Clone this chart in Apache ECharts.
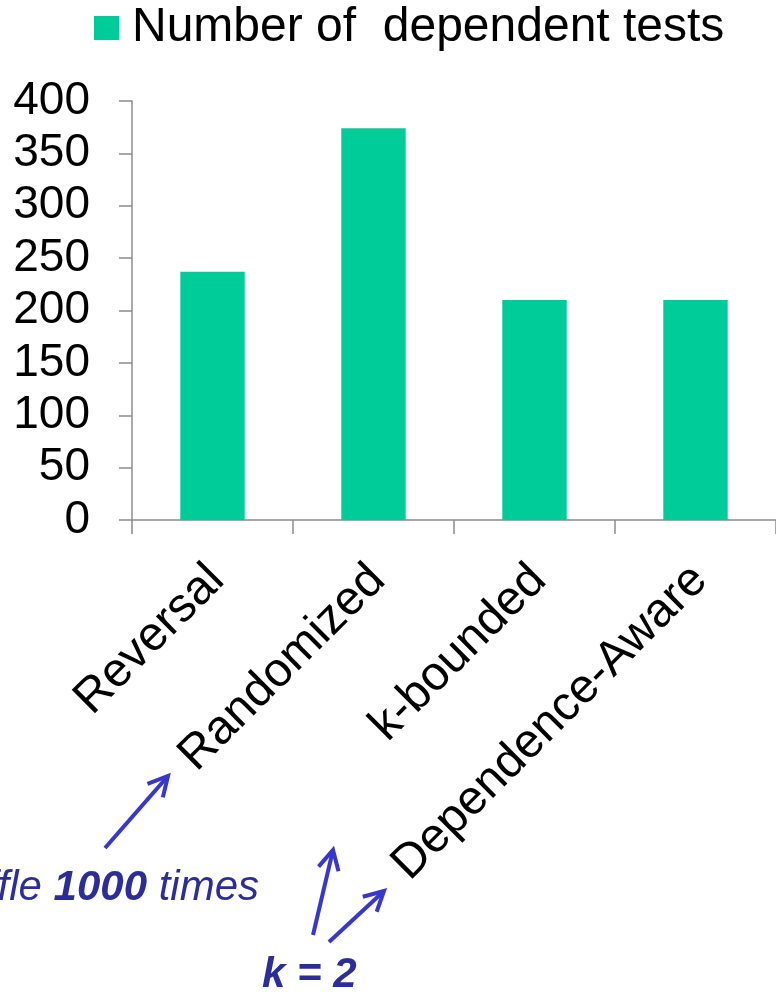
<!DOCTYPE html>
<html>
<head>
<meta charset="utf-8">
<script src="https://cdn.jsdelivr.net/npm/echarts@6/dist/echarts.min.js"></script>
<style>
  html, body { margin: 0; padding: 0; background: #fff; }
  #chart { width: 776px; height: 993px; }
</style>
</head>
<body>
<div id="chart"></div>
<script>
// Test-ordering strategies and how many dependent tests each one exposes
const categories = ['Reversal', 'Randomized', 'k-bounded', 'Dependence-Aware'];
const dependentTests = [237, 374, 210, 210];
const seriesName = 'Number of  dependent tests';
const yTicks = { min: 0, max: 400, interval: 50 };

const FONT = 'Arial, "Liberation Sans", sans-serif';
const AXIS_GRAY = '#8c8c8c';
const BAR_COLOR = '#00cc99';
const NOTE_TEXT = '#2d2d99';
const NOTE_ARROW = '#3737cc';

// Open arrow: shaft plus two barbs at the tip
function arrow(x1, y1, x2, y2) {
  const ang = Math.atan2(y2 - y1, x2 - x1);
  const len = 22, spread = Math.PI / 6.5;
  const b1 = [x2 - len * Math.cos(ang - spread), y2 - len * Math.sin(ang - spread)];
  const b2 = [x2 - len * Math.cos(ang + spread), y2 - len * Math.sin(ang + spread)];
  const style = { stroke: NOTE_ARROW, lineWidth: 4, fill: null, lineJoin: 'miter' };
  return [
    { type: 'line', shape: { x1: x1, y1: y1, x2: x2, y2: y2 }, style: style },
    { type: 'polyline', shape: { points: [b1, [x2, y2], b2] }, style: style }
  ];
}

const chart = echarts.init(document.getElementById('chart'), null, { renderer: 'canvas' });

chart.setOption({
  backgroundColor: '#ffffff',
  animation: false,
  textStyle: { fontFamily: FONT },
  legend: {
    data: [seriesName],
    left: 94,
    top: 4,
    padding: 0,
    icon: 'rect',
    itemWidth: 25,
    itemHeight: 24,
    textStyle: { fontSize: 48, color: '#000', fontFamily: FONT, padding: [0, 0, 0, 8] }
  },
  grid: { left: 132, top: 101, width: 648, height: 419, containLabel: false },
  xAxis: {
    type: 'category',
    data: categories,
    axisLine: { show: true, lineStyle: { color: AXIS_GRAY, width: 1.5 } },
    axisTick: { show: true, length: 14, lineStyle: { color: AXIS_GRAY, width: 1.5 } },
    axisLabel: {
      interval: 0,
      rotate: 45,
      margin: 23,
      fontSize: 48,
      color: '#000',
      fontFamily: FONT,
      verticalAlign: 'top',
      padding: [0, 18, 0, 0]
    },
    splitLine: { show: false }
  },
  yAxis: {
    type: 'value',
    min: yTicks.min,
    max: yTicks.max,
    interval: yTicks.interval,
    axisLine: { show: true, lineStyle: { color: AXIS_GRAY, width: 1.5 } },
    axisTick: { show: true, length: 13, lineStyle: { color: AXIS_GRAY, width: 1.5 } },
    axisLabel: { fontSize: 46, color: '#000', margin: 42, fontFamily: FONT },
    splitLine: { show: false }
  },
  series: [{
    name: seriesName,
    type: 'bar',
    data: dependentTests,
    barWidth: '40%',
    itemStyle: { color: BAR_COLOR }
  }],
  graphic: [
    {
      type: 'text',
      style: {
        text: '{i|Shuffle }{b|1000}{i| times}',
        x: 259,
        y: 888,
        align: 'right',
        verticalAlign: 'middle',
        rich: {
          i: { fontSize: 42, fontStyle: 'italic', fontFamily: FONT, fill: NOTE_TEXT },
          b: { fontSize: 42, fontStyle: 'italic', fontWeight: 'bold', fontFamily: FONT, fill: NOTE_TEXT }
        }
      }
    },
    {
      type: 'text',
      style: {
        text: 'k = 2',
        x: 262,
        y: 975,
        align: 'left',
        verticalAlign: 'middle',
        fontSize: 42,
        fontStyle: 'italic',
        fontWeight: 'bold',
        fontFamily: FONT,
        fill: NOTE_TEXT
      }
    }
  ].concat(
    arrow(105, 848, 168, 776),
    arrow(313, 935, 333, 850),
    arrow(329, 942, 384, 891)
  )
});
</script>
</body>
</html>
